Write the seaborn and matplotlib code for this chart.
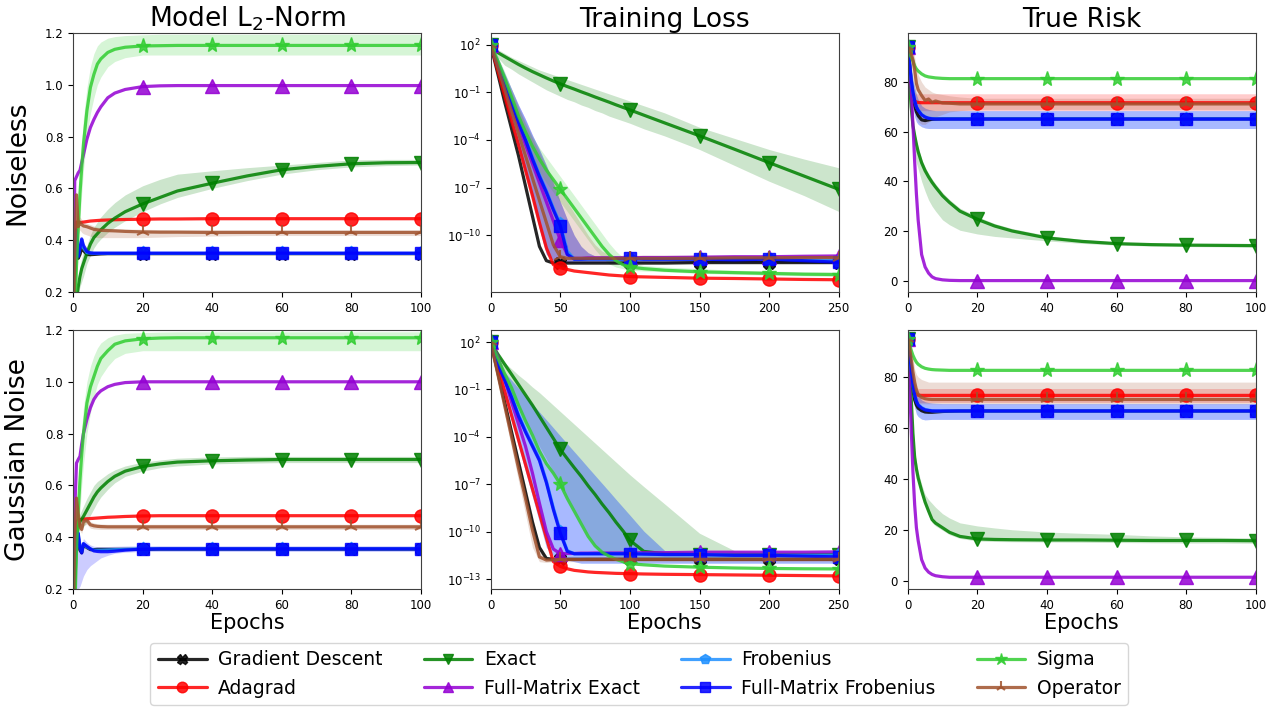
import numpy as np
import matplotlib
matplotlib.use("Agg")
import matplotlib.pyplot as plt
from matplotlib.lines import Line2D
from matplotlib.ticker import FixedLocator, NullLocator
import seaborn as sns

sns.set_style("ticks")
plt.rcParams["font.family"] = ["DejaVu Sans"]
plt.rcParams["mathtext.fontset"] = "dejavusans"
plt.rcParams["text.color"] = "black"
plt.rcParams["axes.labelcolor"] = "black"
plt.rcParams["xtick.color"] = "black"
plt.rcParams["ytick.color"] = "black"

# ---------------------------------------------------------------- labels
methods = ["Gradient Descent", "Adagrad", "Exact", "Full-Matrix Exact",
           "Frobenius", "Full-Matrix Frobenius", "Sigma", "Operator"]
col_titles = ["Model L$_2$-Norm", "Training Loss", "True Risk"]
row_labels = ["Noiseless", "Gaussian Noise"]
x_label = "Epochs"

# ---------------------------------------------------------------- epochs
ep_short = [0, 0.5, 1, 1.5, 2, 2.5, 3, 4, 5, 6, 7, 8, 10, 12, 15, 20, 25, 30,
            40, 50, 60, 70, 80, 90, 100]
ep_long = [0, 5, 10, 15, 20, 25, 30, 35, 40, 45, 50, 55, 60, 65, 70, 75, 80,
           85, 90, 95, 100, 110, 125, 150, 175, 200, 225, 250]
mark_short = [0, 20, 40, 60, 80, 100]
mark_long = [0, 50, 100, 150, 200, 250]

# ---------------------------------------------------------------- ticks
short_xticks = [0, 20, 40, 60, 80, 100]
long_xticks = [0, 50, 100, 150, 200, 250]
l2_yticks = [0.2, 0.4, 0.6, 0.8, 1.0, 1.2]
risk_yticks = [0, 20, 40, 60, 80]
loss_yticks_top = [1e2, 1e-1, 1e-4, 1e-7, 1e-10]
loss_yticks_bottom = [1e2, 1e-1, 1e-4, 1e-7, 1e-10, 1e-13]

# ================================================================ Model L2-norm, noiseless
l2_nl_gd = [0.0, 0.25, 0.40, 0.33, 0.345, 0.37, 0.36, 0.345, 0.344, 0.345, 0.346, 0.347,
            0.348, 0.348, 0.348, 0.348, 0.348, 0.348, 0.348, 0.348, 0.348, 0.348, 0.348, 0.348, 0.348]
l2_nl_adagrad = [0.0, 0.35, 0.47, 0.467, 0.468, 0.469, 0.47, 0.472, 0.474, 0.475, 0.476, 0.477,
                 0.478, 0.479, 0.48, 0.481, 0.482, 0.482, 0.483, 0.483, 0.483, 0.483, 0.483, 0.483, 0.483]
l2_nl_exact = [0.0, 0.05, 0.17, 0.22, 0.26, 0.29, 0.31, 0.35, 0.385, 0.41, 0.425, 0.44,
               0.465, 0.485, 0.51, 0.54, 0.565, 0.59, 0.62, 0.648, 0.672, 0.685, 0.695, 0.699, 0.70]
l2_nl_exact_lo = [0.0, 0.05, 0.15, 0.19, 0.22, 0.24, 0.26, 0.31, 0.34, 0.37, 0.39, 0.405,
                  0.43, 0.45, 0.475, 0.51, 0.54, 0.565, 0.60, 0.63, 0.655, 0.672, 0.683, 0.688, 0.69]
l2_nl_exact_hi = [0.0, 0.05, 0.19, 0.25, 0.30, 0.33, 0.36, 0.38, 0.42, 0.45, 0.47, 0.49,
                  0.52, 0.545, 0.575, 0.61, 0.635, 0.655, 0.668, 0.68, 0.69, 0.70, 0.71, 0.712, 0.712]
l2_nl_fm_exact = [0.0, 0.63, 0.645, 0.66, 0.67, 0.70, 0.73, 0.79, 0.835, 0.866, 0.893, 0.915,
                  0.95, 0.968, 0.982, 0.993, 0.996, 0.997, 0.997, 0.997, 0.997, 0.997, 0.997, 0.997, 0.997]
l2_nl_frob = [0.0, 0.30, 0.43, 0.34, 0.37, 0.40, 0.37, 0.352, 0.35, 0.349, 0.349, 0.349,
              0.349, 0.349, 0.349, 0.349, 0.349, 0.349, 0.349, 0.349, 0.349, 0.349, 0.349, 0.349, 0.349]
l2_nl_fm_frob = [0.0, 0.30, 0.44, 0.336, 0.37, 0.405, 0.38, 0.356, 0.351, 0.35, 0.35, 0.35,
                 0.35, 0.35, 0.35, 0.35, 0.35, 0.35, 0.35, 0.35, 0.35, 0.35, 0.35, 0.35, 0.35]
l2_nl_sigma = [0.0, 0.10, 0.30, 0.45, 0.58, 0.68, 0.77, 0.90, 0.99, 1.04, 1.08, 1.10,
               1.125, 1.137, 1.145, 1.15, 1.151, 1.152, 1.152, 1.152, 1.152, 1.152, 1.152, 1.152, 1.152]
l2_nl_sigma_lo = [0.0, 0.08, 0.22, 0.36, 0.48, 0.58, 0.67, 0.80, 0.89, 0.95, 1.0, 1.03,
                  1.07, 1.09, 1.105, 1.115, 1.115, 1.115, 1.115, 1.115, 1.115, 1.115, 1.115, 1.115, 1.115]
l2_nl_sigma_hi = [0.0, 0.12, 0.38, 0.55, 0.68, 0.78, 0.87, 0.99, 1.07, 1.12, 1.15, 1.165,
                  1.18, 1.186, 1.19, 1.193, 1.195, 1.195, 1.195, 1.195, 1.195, 1.195, 1.195, 1.195, 1.195]
l2_nl_operator = [0.0, 0.35, 0.575, 0.452, 0.47, 0.46, 0.455, 0.452, 0.447, 0.442, 0.44, 0.438,
                  0.437, 0.436, 0.434, 0.432, 0.431, 0.431, 0.43, 0.43, 0.43, 0.43, 0.43, 0.43, 0.43]
l2_nl_operator_lo = [0.0, 0.30, 0.52, 0.42, 0.44, 0.43, 0.425, 0.42, 0.415, 0.412, 0.41, 0.41,
                     0.41, 0.41, 0.41, 0.41, 0.412, 0.414, 0.416, 0.418, 0.418, 0.418, 0.418, 0.418, 0.418]
l2_nl_operator_hi = [0.0, 0.40, 0.60, 0.48, 0.49, 0.48, 0.47, 0.465, 0.46, 0.455, 0.45, 0.448,
                     0.446, 0.445, 0.443, 0.442, 0.441, 0.44, 0.44, 0.44, 0.44, 0.44, 0.44, 0.44, 0.44]

# ================================================================ Model L2-norm, Gaussian noise
l2_gn_gd = [0.0, 0.30, 0.40, 0.40, 0.35, 0.34, 0.37, 0.36, 0.352, 0.352, 0.353, 0.353,
            0.353, 0.353, 0.353, 0.353, 0.354, 0.354, 0.354, 0.354, 0.354, 0.354, 0.354, 0.354, 0.354]
l2_gn_adagrad = [0.0, 0.30, 0.46, 0.465, 0.468, 0.469, 0.47, 0.471, 0.472, 0.473, 0.474, 0.475,
                 0.477, 0.478, 0.48, 0.482, 0.483, 0.483, 0.483, 0.483, 0.483, 0.483, 0.483, 0.483, 0.483]
l2_gn_exact = [0.0, 0.20, 0.40, 0.44, 0.46, 0.47, 0.48, 0.505, 0.53, 0.555, 0.575, 0.59,
               0.615, 0.635, 0.655, 0.673, 0.683, 0.69, 0.695, 0.698, 0.70, 0.70, 0.70, 0.70, 0.70]
l2_gn_exact_lo = [0.0, 0.20, 0.38, 0.42, 0.43, 0.435, 0.44, 0.46, 0.485, 0.51, 0.535, 0.555,
                  0.585, 0.61, 0.635, 0.655, 0.668, 0.675, 0.683, 0.686, 0.688, 0.688, 0.688, 0.688, 0.688]
l2_gn_exact_hi = [0.0, 0.20, 0.42, 0.47, 0.49, 0.505, 0.52, 0.55, 0.575, 0.60, 0.615, 0.625,
                  0.645, 0.66, 0.675, 0.69, 0.698, 0.705, 0.71, 0.712, 0.712, 0.712, 0.712, 0.712, 0.712]
l2_gn_fm_exact = [0.0, 0.50, 0.686, 0.70, 0.712, 0.76, 0.80, 0.855, 0.90, 0.932, 0.952, 0.965,
                  0.981, 0.99, 0.997, 1.0, 1.0, 1.0, 1.0, 1.0, 1.0, 1.0, 1.0, 1.0, 1.0]
l2_gn_frob = [0.0, 0.30, 0.38, 0.41, 0.36, 0.345, 0.375, 0.362, 0.355, 0.35, 0.35, 0.35,
              0.351, 0.352, 0.353, 0.355, 0.355, 0.355, 0.355, 0.355, 0.355, 0.355, 0.355, 0.355, 0.355]
l2_gn_fm_frob = [0.0, 0.30, 0.38, 0.416, 0.36, 0.339, 0.375, 0.365, 0.355, 0.347, 0.345, 0.344,
                 0.344, 0.346, 0.35, 0.354, 0.355, 0.355, 0.355, 0.355, 0.355, 0.355, 0.355, 0.355, 0.355]
l2_gn_fm_frob_lo = [0.0, 0.20, 0.20, 0.20, 0.21, 0.23, 0.25, 0.275, 0.29, 0.30, 0.31, 0.32,
                    0.33, 0.338, 0.342, 0.345, 0.345, 0.345, 0.345, 0.345, 0.345, 0.345, 0.345, 0.345, 0.345]
l2_gn_fm_frob_hi = [0.0, 0.35, 0.42, 0.44, 0.39, 0.37, 0.395, 0.38, 0.37, 0.365, 0.364, 0.364,
                    0.364, 0.365, 0.366, 0.367, 0.367, 0.367, 0.367, 0.367, 0.367, 0.367, 0.367, 0.367, 0.367]
l2_gn_sigma = [0.0, 0.10, 0.35, 0.50, 0.62, 0.72, 0.80, 0.918, 0.98, 1.02, 1.06, 1.09,
               1.12, 1.145, 1.158, 1.166, 1.169, 1.17, 1.17, 1.17, 1.17, 1.17, 1.17, 1.17, 1.17]
l2_gn_sigma_lo = [0.0, 0.08, 0.25, 0.40, 0.50, 0.60, 0.68, 0.80, 0.88, 0.94, 0.99, 1.02,
                  1.06, 1.09, 1.11, 1.12, 1.12, 1.12, 1.12, 1.12, 1.12, 1.12, 1.12, 1.12, 1.12]
l2_gn_sigma_hi = [0.0, 0.12, 0.45, 0.60, 0.72, 0.82, 0.90, 1.00, 1.06, 1.10, 1.13, 1.15,
                  1.17, 1.18, 1.187, 1.19, 1.192, 1.193, 1.193, 1.193, 1.193, 1.193, 1.193, 1.193, 1.193]
l2_gn_operator = [0.0, 0.40, 0.551, 0.49, 0.44, 0.43, 0.46, 0.465, 0.448, 0.444, 0.442, 0.441,
                  0.44, 0.44, 0.44, 0.44, 0.44, 0.44, 0.44, 0.44, 0.44, 0.44, 0.44, 0.44, 0.44]
l2_gn_operator_lo = [0.0, 0.35, 0.53, 0.47, 0.425, 0.415, 0.445, 0.45, 0.435, 0.432, 0.431, 0.43,
                     0.43, 0.43, 0.43, 0.43, 0.43, 0.43, 0.43, 0.43, 0.43, 0.43, 0.43, 0.43, 0.43]
l2_gn_operator_hi = [0.0, 0.45, 0.57, 0.51, 0.46, 0.445, 0.475, 0.48, 0.46, 0.455, 0.452, 0.451,
                     0.45, 0.45, 0.45, 0.45, 0.45, 0.45, 0.45, 0.45, 0.45, 0.45, 0.45, 0.45, 0.45]

# ================================================================ Training loss (log10), noiseless
tl_nl_gd = [2.0, 0.2, -1.6, -3.3, -5.0, -6.9, -8.8, -10.7, -11.6, -11.75,
            -11.75, -11.75, -11.75, -11.75, -11.75, -11.75, -11.75, -11.75, -11.75, -11.75,
            -11.75, -11.75, -11.75, -11.72, -11.72, -11.72, -11.72, -11.72]
tl_nl_adagrad = [2.0, 0.4, -1.2, -2.8, -4.3, -5.9, -7.5, -9.2, -10.8, -11.85,
                 -12.05, -12.15, -12.25, -12.3, -12.35, -12.4, -12.45, -12.5, -12.53, -12.56,
                 -12.6, -12.62, -12.65, -12.7, -12.72, -12.75, -12.78, -12.8]
tl_nl_exact = [2.0, 1.5, 1.25, 1.0, 0.75, 0.52, 0.3, 0.1, -0.1, -0.29,
               -0.47, -0.64, -0.8, -0.97, -1.13, -1.3, -1.46, -1.62, -1.79, -1.95,
               -2.11, -2.44, -2.93, -3.74, -4.58, -5.43, -6.27, -7.11]
tl_nl_exact_lo = [2.0, 1.2, 0.7, 0.45, 0.15, -0.1, -0.35, -0.6, -0.85, -1.05,
                  -1.25, -1.45, -1.6, -1.8, -1.95, -2.15, -2.3, -2.5, -2.65, -2.8,
                  -2.95, -3.3, -3.75, -4.6, -5.6, -6.6, -7.5, -8.5]
tl_nl_exact_hi = [2.0, 1.7, 1.45, 1.2, 1.0, 0.8, 0.6, 0.4, 0.25, 0.1,
                  -0.05, -0.2, -0.35, -0.5, -0.65, -0.8, -0.95, -1.1, -1.25, -1.4,
                  -1.55, -1.85, -2.3, -3.2, -3.9, -4.6, -5.2, -5.75]
tl_nl_fm_exact = [2.0, 0.7, -0.6, -1.9, -3.1, -4.3, -5.5, -6.7, -7.9, -9.1,
                  -10.3, -11.2, -11.45, -11.45, -11.42, -11.42, -11.42, -11.42, -11.42, -11.42,
                  -11.42, -11.4, -11.4, -11.38, -11.35, -11.35, -11.32, -11.3]
tl_nl_frob = [2.0, 0.8, -0.4, -1.6, -2.8, -3.9, -5.1, -6.2, -7.2, -8.3,
              -9.3, -11.0, -11.5, -11.5, -11.5, -11.5, -11.5, -11.5, -11.5, -11.5,
              -11.5, -11.5, -11.5, -11.5, -11.5, -11.5, -11.55, -11.6]
tl_nl_fm_frob = [2.0, 0.8, -0.5, -1.7, -2.9, -4.0, -5.2, -6.3, -7.3, -8.4,
                 -9.4, -11.2, -11.5, -11.5, -11.48, -11.48, -11.48, -11.48, -11.48, -11.48,
                 -11.45, -11.5, -11.5, -11.5, -11.55, -11.5, -11.6, -11.7]
tl_nl_fm_frob_lo = [2.0, 0.3, -1.4, -3.0, -4.6, -6.2, -7.8, -9.6, -11.2, -11.6,
                    -11.7, -11.7, -11.7, -11.7, -11.7, -11.7, -11.7, -11.7, -11.7, -11.7,
                    -11.7, -11.7, -11.7, -11.7, -11.7, -11.7, -11.7, -11.7]
tl_nl_fm_frob_hi = [2.0, 1.2, 0.2, -0.8, -1.8, -2.7, -3.7, -4.6, -5.6, -6.7,
                    -7.9, -9.0, -10.0, -10.7, -11.1, -11.3, -11.3, -11.3, -11.3, -11.3,
                    -11.3, -11.3, -11.3, -11.3, -11.3, -11.3, -11.3, -11.3]
tl_nl_sigma = [2.0, 1.0, -0.1, -1.3, -2.5, -3.5, -4.4, -5.2, -5.9, -6.5,
               -7.1, -7.7, -8.3, -8.9, -9.5, -10.1, -10.7, -11.2, -11.6, -11.85,
               -12.0, -12.1, -12.2, -12.3, -12.35, -12.4, -12.45, -12.47]
tl_nl_sigma_lo = [2.0, 0.6, -0.6, -1.9, -3.1, -4.2, -5.1, -6.0, -6.7, -7.3,
                  -7.9, -8.5, -9.1, -9.7, -10.3, -10.9, -11.4, -11.8, -12.0, -12.1,
                  -12.2, -12.25, -12.3, -12.4, -12.45, -12.5, -12.55, -12.6]
tl_nl_sigma_hi = [2.0, 1.3, 0.3, -0.8, -1.9, -2.9, -3.8, -4.5, -5.1, -5.7,
                  -6.3, -6.9, -7.5, -8.1, -8.7, -9.3, -9.9, -10.5, -11.0, -11.4,
                  -11.7, -11.9, -12.0, -12.1, -12.2, -12.25, -12.3, -12.32]
tl_nl_operator = [2.0, 0.6, -0.8, -2.2, -3.6, -5.0, -6.4, -7.8, -9.2, -10.6,
                  -11.35, -11.45, -11.45, -11.45, -11.45, -11.45, -11.45, -11.45, -11.45, -11.45,
                  -11.45, -11.45, -11.45, -11.45, -11.42, -11.42, -11.4, -11.4]
tl_nl_operator_lo = [2.0, 0.2, -1.5, -3.1, -4.8, -6.4, -8.0, -9.6, -11.0, -11.5,
                     -11.6, -11.6, -11.6, -11.6, -11.6, -11.6, -11.6, -11.6, -11.6, -11.6,
                     -11.6, -11.6, -11.6, -11.6, -11.6, -11.6, -11.6, -11.6]
tl_nl_operator_hi = [2.0, 1.0, 0.0, -1.0, -2.0, -3.0, -3.9, -4.8, -5.7, -6.5,
                     -7.2, -7.9, -8.6, -9.3, -10.0, -10.6, -11.0, -11.2, -11.3, -11.25,
                     -11.25, -11.25, -11.25, -11.25, -11.25, -11.25, -11.25, -11.25]

# ================================================================ Training loss (log10), Gaussian noise
tl_gn_gd = [2.0, 0.1, -1.8, -3.7, -5.6, -7.5, -9.4, -11.0, -11.7, -11.75,
            -11.75, -11.75, -11.75, -11.75, -11.75, -11.75, -11.75, -11.75, -11.75, -11.75,
            -11.75, -11.75, -11.75, -11.75, -11.75, -11.75, -11.75, -11.75]
tl_gn_adagrad = [2.0, 0.45, -1.1, -2.65, -4.2, -5.75, -7.3, -8.85, -10.4, -11.9,
                 -12.2, -12.35, -12.45, -12.5, -12.55, -12.58, -12.6, -12.62, -12.64, -12.65,
                 -12.66, -12.68, -12.7, -12.72, -12.74, -12.76, -12.78, -12.8]
tl_gn_exact = [2.0, 1.25, 0.6, -0.05, -0.7, -1.35, -2.0, -2.7, -3.4, -4.1,
               -4.8, -5.38, -5.95, -6.5, -7.1, -7.65, -8.25, -8.8, -9.4, -9.95,
               -10.55, -11.25, -11.4, -11.45, -11.45, -11.45, -11.45, -11.45]
tl_gn_exact_lo = [2.0, 0.5, -0.6, -1.4, -2.2, -3.0, -3.8, -4.6, -5.4, -6.2,
                  -7.0, -7.8, -8.6, -9.4, -10.2, -10.9, -11.3, -11.5, -11.6, -11.6,
                  -11.6, -11.6, -11.6, -11.6, -11.6, -11.6, -11.6, -11.6]
tl_gn_exact_hi = [2.0, 1.3, 0.7, 0.3, -0.1, -0.45, -0.85, -1.2, -1.6, -2.0,
                  -2.4, -2.8, -3.2, -3.6, -4.0, -4.4, -4.8, -5.2, -5.6, -6.0,
                  -6.4, -7.15, -8.25, -10.1, -11.2, -11.3, -11.3, -11.3]
tl_gn_fm_exact = [2.0, 1.1, -0.35, -1.8, -3.2, -4.6, -6.3, -8.2, -10.0, -11.1,
                  -11.4, -11.38, -11.38, -11.36, -11.36, -11.35, -11.35, -11.35, -11.35, -11.35,
                  -11.35, -11.33, -11.33, -11.3, -11.3, -11.3, -11.3, -11.28]
tl_gn_frob = [2.0, 0.7, -0.3, -1.4, -2.6, -3.6, -4.5, -5.4, -6.8, -8.5,
              -10.0, -11.2, -11.4, -11.4, -11.4, -11.4, -11.4, -11.4, -11.4, -11.4,
              -11.4, -11.42, -11.45, -11.45, -11.5, -11.5, -11.5, -11.5]
tl_gn_fm_frob = [2.0, 0.6, -0.4, -1.5, -2.7, -3.7, -4.6, -5.5, -6.9, -8.6,
                 -10.1, -11.25, -11.4, -11.4, -11.4, -11.4, -11.4, -11.4, -11.4, -11.4,
                 -11.4, -11.42, -11.45, -11.45, -11.5, -11.5, -11.55, -11.6]
tl_gn_fm_frob_lo = [2.0, 0.3, -1.4, -3.0, -4.6, -6.2, -7.8, -9.4, -11.0, -11.5,
                    -11.7, -11.8, -11.9, -12.0, -12.0, -12.0, -12.0, -12.0, -12.0, -12.0,
                    -12.0, -12.0, -12.0, -12.0, -12.0, -12.0, -12.0, -12.0]
tl_gn_fm_frob_hi = [2.0, 0.9, 0.1, -0.42, -0.92, -1.42, -1.93, -2.43, -2.93, -3.43,
                    -3.94, -4.44, -4.94, -5.44, -5.95, -6.45, -6.95, -7.45, -7.96, -8.46,
                    -8.96, -9.97, -11.2, -11.3, -11.3, -11.3, -11.3, -11.3]
tl_gn_sigma = [2.0, 1.0, 0.0, -0.9, -2.0, -3.0, -3.9, -4.9, -5.7, -6.3,
               -7.0, -7.9, -8.7, -9.5, -10.3, -10.9, -11.3, -11.55, -11.75, -11.9,
               -12.03, -12.1, -12.18, -12.25, -12.3, -12.33, -12.35, -12.36]
tl_gn_operator = [2.0, 0.0, -2.0, -4.0, -6.0, -7.9, -9.9, -11.6, -11.8, -11.78,
                  -11.76, -11.76, -11.76, -11.76, -11.75, -11.75, -11.75, -11.75, -11.75, -11.75,
                  -11.75, -11.75, -11.75, -11.75, -11.75, -11.75, -11.75, -11.75]
tl_gn_operator_lo = [2.0, -0.5, -2.6, -4.7, -6.8, -8.9, -11.0, -11.9, -11.95, -11.9,
                     -11.9, -11.9, -11.9, -11.9, -11.9, -11.9, -11.9, -11.9, -11.9, -11.9,
                     -11.9, -11.9, -11.9, -11.9, -11.9, -11.9, -11.9, -11.9]
tl_gn_operator_hi = [2.0, 0.4, -1.5, -3.4, -5.3, -7.1, -9.0, -10.9, -11.6, -11.65,
                     -11.65, -11.65, -11.65, -11.65, -11.65, -11.65, -11.65, -11.65, -11.65, -11.65,
                     -11.65, -11.65, -11.65, -11.65, -11.65, -11.65, -11.65, -11.65]

# ================================================================ True risk, noiseless
rk_nl_gd = [94, 88, 80, 74, 70.5, 68, 66.5, 64.8, 64.5, 64.8, 65.0, 65.1,
            65.2, 65.2, 65.2, 65.2, 65.2, 65.2, 65.2, 65.2, 65.2, 65.2, 65.2, 65.2, 65.2]
rk_nl_adagrad = [94, 86, 78, 74, 72.5, 72, 71.8, 71.7, 71.7, 71.7, 71.7, 71.7,
                 71.7, 71.7, 71.7, 71.7, 71.7, 71.7, 71.7, 71.7, 71.7, 71.7, 71.7, 71.7, 71.7]
rk_nl_adagrad_lo = [94, 84, 74, 70, 68.5, 68.5, 68.5, 68.5, 68.5, 68.5, 68.5, 68.5,
                    68.5, 68.5, 68.5, 68.5, 68.5, 68.5, 68.5, 68.5, 68.5, 68.5, 68.5, 68.5, 68.5]
rk_nl_adagrad_hi = [94, 88, 82, 78, 76, 75.3, 75.3, 75.3, 75.3, 75.3, 75.3, 75.3,
                    75.3, 75.3, 75.3, 75.3, 75.3, 75.3, 75.3, 75.3, 75.3, 75.3, 75.3, 75.3, 75.3]
rk_nl_exact = [94, 80, 70, 62.5, 58.5, 55, 52, 47.5, 44.3, 41.8, 39.6, 37.7,
               34.2, 31.5, 28.0, 24.7, 22.0, 20.0, 17.2, 15.8, 14.9, 14.5, 14.3, 14.2, 14.1]
rk_nl_exact_lo = [94, 78, 66, 57, 51, 47.5, 45, 40, 36, 32.5, 30, 28,
                  24.5, 22.5, 20.3, 18.8, 17.8, 17.2, 16.0, 15.0, 14.3, 13.9, 13.7, 13.6, 13.5]
rk_nl_exact_hi = [94, 82, 72, 64, 60, 56.5, 53.5, 49, 45.8, 43.2, 41, 39,
                  35.5, 32.7, 29.2, 25.8, 23.0, 21.0, 18.2, 16.6, 15.5, 15.0, 14.8, 14.7, 14.6]
rk_nl_fm_exact = [94, 86, 77, 63, 48, 35, 24.5, 10.5, 5.5, 3.0, 1.5, 0.8,
                  0.3, 0.1, 0.0, 0.0, 0.0, 0.0, 0.0, 0.0, 0.0, 0.0, 0.0, 0.0, 0.0]
rk_nl_frob = [94, 88, 81, 76, 72.5, 70, 68.8, 67, 66, 65.5, 65.3, 65.2,
              65.2, 65.2, 65.2, 65.2, 65.2, 65.2, 65.2, 65.2, 65.2, 65.2, 65.2, 65.2, 65.2]
rk_nl_fm_frob = [94, 88, 81, 76, 72.5, 70, 68.6, 66.8, 65.9, 65.4, 65.2, 65.1,
                 65.1, 65.1, 65.1, 65.1, 65.1, 65.1, 65.1, 65.1, 65.1, 65.1, 65.1, 65.1, 65.1]
rk_nl_fm_frob_lo = [94, 84, 76, 70, 66, 64, 63, 62, 61.5, 61.3, 61.3, 61.3,
                    61.3, 61.3, 61.3, 61.3, 61.3, 61.3, 61.3, 61.3, 61.3, 61.3, 61.3, 61.3, 61.3]
rk_nl_fm_frob_hi = [94, 92, 86, 81, 78, 75, 73, 70.5, 69.5, 69, 68.7, 68.5,
                    68.5, 68.5, 68.5, 68.5, 68.5, 68.5, 68.5, 68.5, 68.5, 68.5, 68.5, 68.5, 68.5]
rk_nl_sigma = [94, 92, 90, 88.5, 86.5, 85.3, 84.5, 83.3, 82.5, 82.1, 81.9, 81.7,
               81.5, 81.4, 81.4, 81.4, 81.4, 81.4, 81.4, 81.4, 81.4, 81.4, 81.4, 81.4, 81.4]
rk_nl_operator = [94, 93, 91.5, 89, 85, 79.5, 77, 74.6, 72.6, 73.2, 71.8, 72.4,
                  71.6, 71.5, 71.2, 71.2, 71.2, 71.2, 71.2, 71.2, 71.2, 71.2, 71.2, 71.2, 71.2]
rk_nl_operator_lo = [94, 90, 84, 78, 70, 66, 64, 63, 63, 64, 65, 66,
                     67, 68, 68.5, 69, 69, 69, 69, 69, 69, 69, 69, 69, 69]
rk_nl_operator_hi = [94, 95, 95, 94, 90, 86, 83, 80, 78, 77, 76, 75.5,
                     75, 74.5, 74, 73.5, 73.5, 73.5, 73.5, 73.5, 73.5, 73.5, 73.5, 73.5, 73.5]

# ================================================================ True risk, Gaussian noise
rk_gn_gd = [95, 90, 82, 75, 71, 69, 67.8, 66.8, 66.3, 66.2, 66.2, 66.3,
            66.5, 66.6, 66.7, 66.7, 66.7, 66.7, 66.7, 66.7, 66.7, 66.7, 66.7, 66.7, 66.7]
rk_gn_adagrad = [95, 88, 80, 76, 74, 73.2, 72.9, 72.8, 72.8, 72.8, 72.8, 72.8,
                 72.8, 72.8, 72.8, 72.8, 72.8, 72.8, 72.8, 72.8, 72.8, 72.8, 72.8, 72.8, 72.8]
rk_gn_adagrad_lo = [95, 85, 76, 72, 70.5, 70, 70, 70, 70, 70, 70, 70,
                    70, 70, 70, 70, 70, 70, 70, 70, 70, 70, 70, 70, 70]
rk_gn_adagrad_hi = [95, 91, 84, 80, 77.5, 76, 75.5, 75.5, 75.5, 75.5, 75.5, 75.5,
                    75.5, 75.5, 75.5, 75.5, 75.5, 75.5, 75.5, 75.5, 75.5, 75.5, 75.5, 75.5, 75.5]
rk_gn_exact = [95, 85, 72, 58, 48.5, 44, 40.5, 35.5, 31, 27.5, 24.2, 22.8,
               21.0, 19.2, 17.6, 16.6, 16.4, 16.3, 16.2, 16.2, 16.1, 16.0, 16.0, 16.0, 15.9]
rk_gn_exact_lo = [95, 84, 70, 56, 46.5, 42, 38.5, 33.5, 29.5, 26, 23, 21.7,
                  20.0, 18.3, 16.8, 15.8, 15.6, 15.5, 15.4, 15.3, 15.2, 15.1, 15.0, 15.0, 14.9]
rk_gn_exact_hi = [95, 86, 74, 61, 52, 47, 43, 38, 34, 32, 30.5, 29,
                  26.5, 24.8, 22.9, 21.7, 20.9, 20.2, 19.3, 18.8, 18.4, 17.8, 17.4, 17.2, 17.0]
rk_gn_fm_exact = [95, 78, 60, 43, 30, 21, 16, 8.5, 5.2, 3.6, 2.7, 2.2,
                  1.8, 1.6, 1.6, 1.6, 1.6, 1.6, 1.6, 1.6, 1.6, 1.6, 1.6, 1.6, 1.6]
rk_gn_frob = [95, 90, 83, 77, 73, 70.5, 69.2, 68, 67.3, 67, 66.8, 66.7,
              66.7, 66.7, 66.7, 66.7, 66.7, 66.7, 66.7, 66.7, 66.7, 66.7, 66.7, 66.7, 66.7]
rk_gn_fm_frob = [95, 90, 83, 77, 73, 70.5, 69.0, 67.8, 67.1, 66.9, 66.7, 66.7,
                 66.7, 66.7, 66.7, 66.7, 66.7, 66.7, 66.7, 66.7, 66.7, 66.7, 66.7, 66.7, 66.7]
rk_gn_fm_frob_lo = [95, 86, 78, 72, 68, 65.5, 64.5, 63.5, 63.2, 63.3, 63.4, 63.4,
                    63.4, 63.4, 63.4, 63.4, 63.4, 63.4, 63.4, 63.4, 63.4, 63.4, 63.4, 63.4, 63.4]
rk_gn_fm_frob_hi = [95, 93, 88, 82, 78, 75, 73, 71, 70.3, 70, 69.8, 69.7,
                    69.6, 69.6, 69.6, 69.6, 69.6, 69.6, 69.6, 69.6, 69.6, 69.6, 69.6, 69.6, 69.6]
rk_gn_sigma = [95, 93, 90.5, 88.5, 87, 85.8, 85, 84, 83.4, 83.1, 82.9, 82.8,
               82.7, 82.6, 82.6, 82.6, 82.6, 82.6, 82.6, 82.6, 82.6, 82.6, 82.6, 82.6, 82.6]
rk_gn_operator = [95, 92, 87, 82, 78, 75, 73.2, 72, 71.5, 71.3, 71.2, 71.2,
                  71.2, 71.2, 71.2, 71.2, 71.2, 71.2, 71.2, 71.2, 71.2, 71.2, 71.2, 71.2, 71.2]
rk_gn_operator_lo = [95, 88, 80, 74, 71, 70, 69.5, 69.5, 69.5, 69.5, 69.5, 69.5,
                     69.5, 69.5, 69.5, 69.5, 69.5, 69.5, 69.5, 69.5, 69.5, 69.5, 69.5, 69.5, 69.5]
rk_gn_operator_hi = [95, 95, 92, 88, 83, 81, 80, 79, 78.5, 78, 78, 78,
                     78, 78, 78, 78, 78, 78, 78, 78, 78, 78, 78, 78, 78]

# ---------------------------------------------------------------- styles
colors = ["black", "red", "green", "darkviolet", "dodgerblue", "blue", "limegreen", "sienna"]
markers = ["X", "o", "v", "^", "p", "s", "*", "2"]
msizes = [9, 9.5, 9.5, 9.5, 9.5, 9, 11, 10]
mews = [1.0, 1.0, 1.0, 1.0, 1.0, 1.0, 1.0, 1.5]
LW = 2.3
LINE_ALPHA = 0.85
BAND_ALPHA = 0.2


def pack(*vals):
    return dict(zip(methods, vals))


panels = [
    # row 0
    dict(x=ep_short, marks=mark_short, log=False,
         series=pack(l2_nl_gd, l2_nl_adagrad, l2_nl_exact, l2_nl_fm_exact,
                     l2_nl_frob, l2_nl_fm_frob, l2_nl_sigma, l2_nl_operator),
         bands={"Exact": (l2_nl_exact_lo, l2_nl_exact_hi),
                "Sigma": (l2_nl_sigma_lo, l2_nl_sigma_hi),
                "Operator": (l2_nl_operator_lo, l2_nl_operator_hi)},
         xticks=short_xticks, yticks=l2_yticks, ylim=(0.2, 1.2)),
    dict(x=ep_long, marks=mark_long, log=True,
         series=pack(tl_nl_gd, tl_nl_adagrad, tl_nl_exact, tl_nl_fm_exact,
                     tl_nl_frob, tl_nl_fm_frob, tl_nl_sigma, tl_nl_operator),
         bands={"Exact": (tl_nl_exact_lo, tl_nl_exact_hi),
                "Full-Matrix Exact": (tl_nl_fm_frob_lo, tl_nl_fm_frob_hi),
                "Frobenius": (tl_nl_fm_frob_lo, tl_nl_fm_frob_hi),
                "Full-Matrix Frobenius": (tl_nl_fm_frob_lo, tl_nl_fm_frob_hi),
                "Sigma": (tl_nl_sigma_lo, tl_nl_sigma_hi),
                "Operator": (tl_nl_operator_lo, tl_nl_operator_hi)},
         xticks=long_xticks, yticks=loss_yticks_top, ylim=(10 ** -13.57, 10 ** 2.73)),
    dict(x=ep_short, marks=mark_short, log=False,
         series=pack(rk_nl_gd, rk_nl_adagrad, rk_nl_exact, rk_nl_fm_exact,
                     rk_nl_frob, rk_nl_fm_frob, rk_nl_sigma, rk_nl_operator),
         bands={"Adagrad": (rk_nl_adagrad_lo, rk_nl_adagrad_hi),
                "Exact": (rk_nl_exact_lo, rk_nl_exact_hi),
                "Frobenius": (rk_nl_fm_frob_lo, rk_nl_fm_frob_hi),
                "Full-Matrix Frobenius": (rk_nl_fm_frob_lo, rk_nl_fm_frob_hi),
                "Operator": (rk_nl_operator_lo, rk_nl_operator_hi)},
         xticks=short_xticks, yticks=risk_yticks, ylim=(-4.6, 99.8)),
    # row 1
    dict(x=ep_short, marks=mark_short, log=False,
         series=pack(l2_gn_gd, l2_gn_adagrad, l2_gn_exact, l2_gn_fm_exact,
                     l2_gn_frob, l2_gn_fm_frob, l2_gn_sigma, l2_gn_operator),
         bands={"Exact": (l2_gn_exact_lo, l2_gn_exact_hi),
                "Full-Matrix Frobenius": (l2_gn_fm_frob_lo, l2_gn_fm_frob_hi),
                "Sigma": (l2_gn_sigma_lo, l2_gn_sigma_hi),
                "Operator": (l2_gn_operator_lo, l2_gn_operator_hi)},
         xticks=short_xticks, yticks=l2_yticks, ylim=(0.2, 1.2)),
    dict(x=ep_long, marks=mark_long, log=True,
         series=pack(tl_gn_gd, tl_gn_adagrad, tl_gn_exact, tl_gn_fm_exact,
                     tl_gn_frob, tl_gn_fm_frob, tl_gn_sigma, tl_gn_operator),
         bands={"Exact": (tl_gn_exact_lo, tl_gn_exact_hi),
                "Frobenius": (tl_gn_fm_frob_lo, tl_gn_fm_frob_hi),
                "Full-Matrix Frobenius": (tl_gn_fm_frob_lo, tl_gn_fm_frob_hi),
                "Operator": (tl_gn_operator_lo, tl_gn_operator_hi)},
         xticks=long_xticks, yticks=loss_yticks_bottom, ylim=(10 ** -13.63, 10 ** 2.76)),
    dict(x=ep_short, marks=mark_short, log=False,
         series=pack(rk_gn_gd, rk_gn_adagrad, rk_gn_exact, rk_gn_fm_exact,
                     rk_gn_frob, rk_gn_fm_frob, rk_gn_sigma, rk_gn_operator),
         bands={"Adagrad": (rk_gn_adagrad_lo, rk_gn_adagrad_hi),
                "Exact": (rk_gn_exact_lo, rk_gn_exact_hi),
                "Frobenius": (rk_gn_fm_frob_lo, rk_gn_fm_frob_hi),
                "Full-Matrix Frobenius": (rk_gn_fm_frob_lo, rk_gn_fm_frob_hi),
                "Operator": (rk_gn_operator_lo, rk_gn_operator_hi)},
         xticks=short_xticks, yticks=risk_yticks, ylim=(-3.0, 98.4)),
]

fig = plt.figure(figsize=(12.76, 7.07), dpi=100)
lefts = [73 / 1276, 490.7 / 1276, 907.7 / 1276]
bottoms = [1 - 292 / 707, 1 - 589 / 707]
W, H = 348 / 1276, 259 / 707

for p_i, p in enumerate(panels):
    r, c = divmod(p_i, 3)
    ax = fig.add_axes([lefts[c], bottoms[r], W, H])
    x = np.asarray(p["x"], float)
    idx = [i for i, v in enumerate(x) if v in p["marks"]]
    for k, m in enumerate(methods):
        if m in p["bands"]:
            lo = np.asarray(p["bands"][m][0], float)
            hi = np.asarray(p["bands"][m][1], float)
            if p["log"]:
                lo, hi = 10.0 ** lo, 10.0 ** hi
            ax.fill_between(x, lo, hi, color=colors[k], alpha=BAND_ALPHA, lw=0)
        y = np.asarray(p["series"][m], float)
        if p["log"]:
            y = 10.0 ** y
        sns.lineplot(x=x, y=y, ax=ax, color=colors[k], lw=LW, alpha=LINE_ALPHA,
                     marker=markers[k], markersize=msizes[k], markevery=idx,
                     markeredgecolor=colors[k], markeredgewidth=mews[k],
                     estimator=None, errorbar=None, sort=False, legend=False)
    ax.set_xlim(x[0], x[-1])
    ax.set_xticks(p["xticks"])
    if p["log"]:
        ax.set_yscale("log")
        ax.yaxis.set_major_locator(FixedLocator(p["yticks"]))
        ax.yaxis.set_minor_locator(NullLocator())
    else:
        ax.set_yticks(p["yticks"])
    ax.set_ylim(*p["ylim"])
    ax.tick_params(labelsize=8.5, colors="black")
    for s in ax.spines.values():
        s.set_color("0.25")
    ax.set_xlabel("")
    ax.set_ylabel("")
    if r == 0:
        ax.set_title(col_titles[c], fontsize=19, pad=4, color="black")
    if r == 1:
        ax.set_xlabel(x_label, fontsize=15, labelpad=1)
    if c == 0:
        ax.set_ylabel(row_labels[r], fontsize=19, labelpad=10)

handles = [Line2D([], [], color=colors[k], lw=LW, alpha=LINE_ALPHA, marker=markers[k],
                  markersize=msizes[k] * 0.8, markeredgecolor=colors[k], markeredgewidth=mews[k])
           for k in range(len(methods))]
fig.legend(handles, methods, loc="lower center", bbox_to_anchor=(0.501, 0.0), ncol=4,
           fontsize=13.5, handlelength=2.6, handletextpad=0.6, columnspacing=2.2,
           borderaxespad=0.1, frameon=True)

fig.savefig("out.png", dpi=100)
